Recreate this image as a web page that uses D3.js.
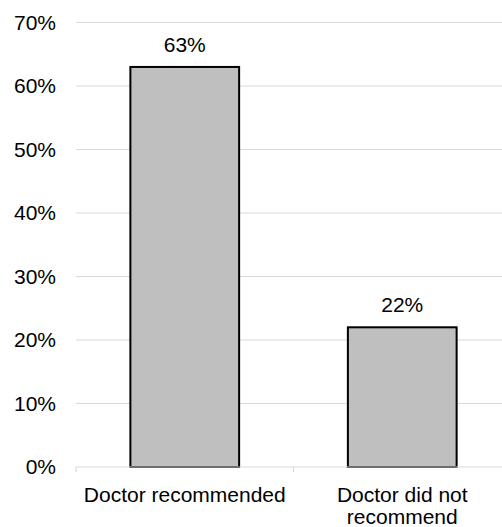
<!DOCTYPE html>
<html>
<head>
<meta charset="utf-8">
<script src="https://cdn.jsdelivr.net/npm/d3@7"></script>
<style>
  body { margin: 0; background: #fff; }
  text { font-family: "Liberation Sans", Arial, sans-serif; fill: #000; }
</style>
</head>
<body>
<div id="chart"></div>
<script>
const categories = ["Doctor recommended", "Doctor did not recommend"]
const values = [63, 22]
const yTicks = [0, 10, 20, 30, 40, 50, 60, 70]

const W = 502, H = 527
const margin = { left: 76, right: 511, top: 22.5, bottom: 467 }
const fontSize = "21px"

const svg = d3.select("#chart").append("svg")
  .attr("width", W)
  .attr("height", H)

const x = d3.scaleBand()
  .domain(categories)
  .range([margin.left, margin.right])
  .paddingInner(0.5)
  .paddingOuter(0.25)

const y = d3.scaleLinear()
  .domain([0, 70])
  .range([margin.bottom, margin.top])

// gridlines
svg.append("g")
  .selectAll("line")
  .data(yTicks.filter(d => d > 0))
  .join("line")
  .attr("x1", margin.left)
  .attr("x2", W)
  .attr("y1", d => y(d))
  .attr("y2", d => y(d))
  .attr("stroke", "#d9d9d9")
  .attr("stroke-width", 1.2)

// y labels
svg.append("g")
  .selectAll("text")
  .data(yTicks)
  .join("text")
  .attr("x", 56)
  .attr("y", d => y(d))
  .attr("dy", "0.35em")
  .attr("text-anchor", "end")
  .style("font-size", fontSize)
  .text(d => d + "%")

// bars
svg.append("g")
  .selectAll("rect")
  .data(values)
  .join("rect")
  .attr("x", (d, i) => x(categories[i]))
  .attr("y", d => y(d))
  .attr("width", x.bandwidth())
  .attr("height", d => y(0) - y(d))
  .attr("fill", "#bfbfbf")
  .attr("stroke", "#000")
  .attr("stroke-width", 2)

// value labels
svg.append("g")
  .selectAll("text")
  .data(values)
  .join("text")
  .attr("x", (d, i) => x(categories[i]) + x.bandwidth() / 2)
  .attr("y", d => y(d) - 15)
  .attr("text-anchor", "middle")
  .style("font-size", fontSize)
  .text(d => d + "%")

// x axis line and ticks
const step = x.step()
svg.append("line")
  .attr("x1", margin.left).attr("x2", W)
  .attr("y1", margin.bottom).attr("y2", margin.bottom)
  .attr("stroke", "#d9d9d9")
  .attr("stroke-width", 1.2)
svg.append("g")
  .selectAll("line")
  .data([0, 1])
  .join("line")
  .attr("x1", d => margin.left + d * step)
  .attr("x2", d => margin.left + d * step)
  .attr("y1", margin.bottom)
  .attr("y2", margin.bottom + 5)
  .attr("stroke", "#d9d9d9")
  .attr("stroke-width", 1.2)

// category labels
const lines = [["Doctor recommended"], ["Doctor did not", "recommend"]]
svg.append("g")
  .selectAll("text")
  .data(categories)
  .join("text")
  .attr("x", d => x(d) + x.bandwidth() / 2)
  .attr("y", 502)
  .attr("text-anchor", "middle")
  .style("font-size", fontSize)
  .each(function (d, i) {
    d3.select(this).selectAll("tspan")
      .data(lines[i])
      .join("tspan")
      .attr("x", x(d) + x.bandwidth() / 2)
      .attr("dy", (t, j) => j === 0 ? 0 : 22)
      .text(t => t)
  })
</script>
</body>
</html>
